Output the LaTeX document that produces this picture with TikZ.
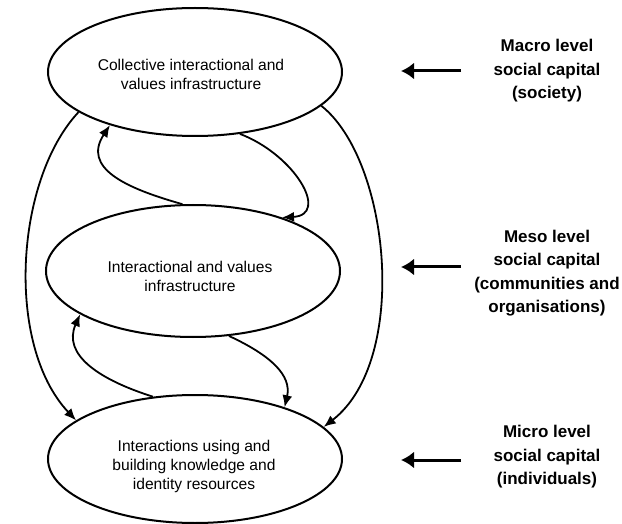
\documentclass[tikz,border=0pt]{standalone}
\usepackage{fontspec}
\setmainfont{Liberation Sans}
\usetikzlibrary{shapes.geometric,arrows.meta}
\begin{document}
\begin{tikzpicture}[x=1pt,y=-1pt,
  level/.style={draw=black,line width=2pt,ellipse,minimum width=294pt,minimum height=128pt,inner sep=0pt},
  inner/.style={align=center,inner sep=0pt,font=\fontsize{15.6}{19}\selectfont},
  conn/.style={line width=1.8pt,-{Latex[length=12pt,width=10pt]}},
  side/.style={line width=3pt,-{Latex[length=13pt,width=17pt]}},
  lab/.style={align=center,font=\bfseries\fontsize{17}{23.5}\selectfont}]
\useasboundingbox (0,0) rectangle (622,524);
\node[level] (top) at (195,72) {};
\node[level,minimum height=132pt] (mid) at (193,271) {};
\node[level] (bot) at (195,459) {};
\node[inner] (toptext) at (191,74) {Collective interactional and\\values infrastructure};
\node[inner] (midtext) at (190,276) {Interactional and values\\infrastructure};
\node[inner] (bottext) at (194,466) {Interactions using and\\building knowledge and\\identity resources};
% big arcs
\draw[conn] (top.199) .. controls (15,180) and (5,345) .. (bot.162);
\draw[conn] (top.345) .. controls (390,160) and (410,360) .. (bot.14);
% loops
\draw[conn] (top.306) .. controls (295,155) and (330,215) .. (mid.31);
\draw[conn] (mid.99) .. controls (125,188) and (82,168) .. (top.212);
\draw[conn] (mid.299) .. controls (270,355) and (292,375) .. (bot.30);
\draw[conn] (bot.124) .. controls (100,380) and (62,355) .. (mid.201);
% side labels
\node[lab] (macro) at (547,71) {Macro level\\social capital\\(society)};
\node[lab] (meso) at (547,273) {Meso level\\social capital\\(communities and\\organisations)};
\node[lab] (micro) at (547,457) {Micro level\\social capital\\(individuals)};
\coordinate (a1s) at (461,71); \coordinate (a1e) at (401,71);
\coordinate (a2s) at (461,267); \coordinate (a2e) at (401,267);
\coordinate (a3s) at (461,460); \coordinate (a3e) at (401,460);
\draw[side] (a1s) -- (a1e);
\draw[side] (a2s) -- (a2e);
\draw[side] (a3s) -- (a3e);
\end{tikzpicture}
\end{document}
